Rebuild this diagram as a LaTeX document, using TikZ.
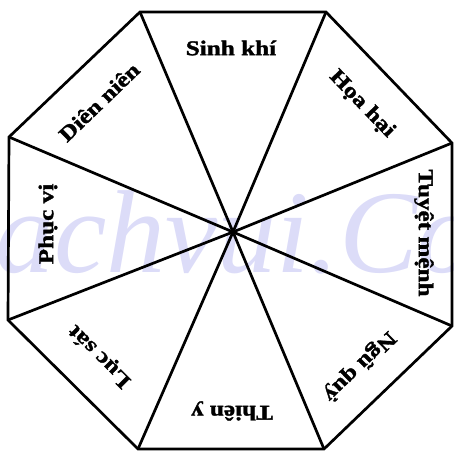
\documentclass[tikz,border=0pt]{standalone}
\usepackage{fontspec}
\setmainfont{Liberation Serif}
\newfontfamily\labfont{Liberation Serif}[FakeStretch=1.2, BoldFeatures={FakeBold=1.6}]
\definecolor{wmcol}{RGB}{220,220,248}
\begin{document}
\begin{tikzpicture}[x=1pt,y=-1pt,
  lab/.style={font=\labfont\bfseries\fontsize{21}{21}\selectfont, inner sep=0pt},
  edge/.style={line width=2.7pt, line join=miter},
  watermark/.style={font=\itshape\fontsize{118}{118}\selectfont, text=wmcol, inner sep=0pt}]
\useasboundingbox (0,0) rectangle (454,452);
\begin{scope}
  \clip (0,0) rectangle (454,452);
  \node[watermark, anchor=base west] (wm) at (-64,272) {Sachvui.Com};
\end{scope}
\coordinate (c) at (233,232);
\coordinate (v1) at (140,12);
\coordinate (v2) at (326,12);
\coordinate (v3) at (452,143);
\coordinate (v4) at (452,326);
\coordinate (v5) at (324,449);
\coordinate (v6) at (138,449);
\coordinate (v7) at (8,320);
\coordinate (v8) at (9,137);
\draw[edge] (v1) -- (v2) -- (v3) -- (v4) -- (v5) -- (v6) -- (v7) -- (v8) -- cycle;
\foreach \v in {v1,v2,v3,v4,v5,v6,v7,v8} \draw[edge] (c) -- (\v);
\node[lab] (sinh) at (231,48) {Sinh khí};
\node[lab, rotate=-46] (hoa) at (362,104) {Họa hại};
\node[lab, rotate=-90] (tuyet) at (424,233) {Tuyệt mệnh};
\node[lab, rotate=-136] (ngu) at (359,366) {Ngũ quỷ};
\node[lab, rotate=180] (thien) at (232,411) {Thiên y};
\node[lab, rotate=135] (luc) at (100,356) {Lục sát};
\node[lab, rotate=90] (phuc) at (48,224) {Phục vị};
\node[lab, rotate=44] (dien) at (99,102) {Diên niên};
\end{tikzpicture}
\end{document}
